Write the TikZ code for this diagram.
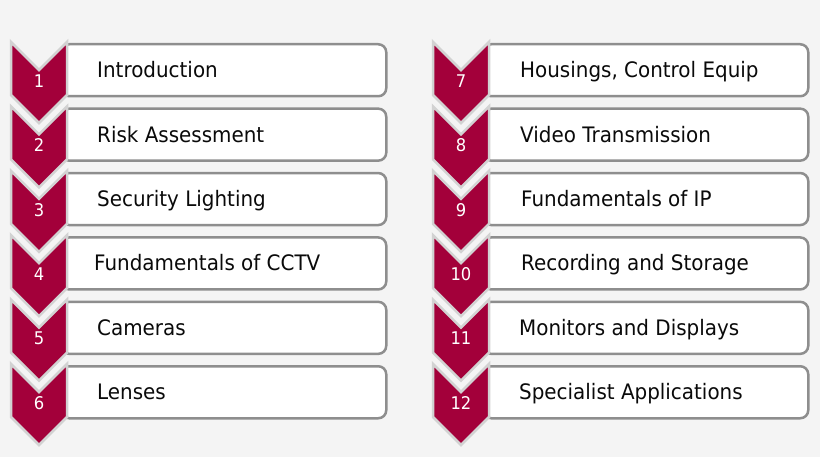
\documentclass[tikz,border=0pt]{standalone}
\usepackage{fontspec}
\setmainfont[FakeStretch=0.935]{DejaVu Sans}
\definecolor{crim}{HTML}{A3003A}
\definecolor{bg}{HTML}{F4F4F4}
\definecolor{boxline}{HTML}{8E8E8E}
\definecolor{chevline}{HTML}{D2D2D2}
\definecolor{txt}{HTML}{0A0A0A}
\begin{document}
\begin{tikzpicture}[x=1pt,y=-1pt,
 itembox/.style={draw=boxline, line width=2.5pt, fill=white, rounded corners=8pt, rectangle, minimum height=52pt, minimum width=325pt, inner sep=0pt, anchor=north west},
 chev/.style={fill=crim, draw=chevline, line width=2.5pt, line join=miter},
 numlabel/.style={text=white, font=\fontsize{17.5}{17.5}\selectfont, inner sep=0pt},
 itemlabel/.style={font=\fontsize{21.3}{21.3}\selectfont, anchor=base west, inner sep=0pt, text=txt}]
\fill[bg] (0,0) rectangle (820,457);
\useasboundingbox (0,0) rectangle (820,457);
\foreach \i/\r/\xl/\tx/\lab in {
  1/1/11/97/Introduction,
  2/2/11/97/Risk Assessment,
  3/3/11/97/Security Lighting,
  4/4/11/94/Fundamentals of CCTV,
  5/5/11/97/Cameras,
  6/6/11/97/Lenses,
  7/1/433/520/{Housings, Control Equip},
  8/2/433/520/Video Transmission,
  9/3/433/521/Fundamentals of IP,
  10/4/433/521/Recording and Storage,
  11/5/433/519/Monitors and Displays,
  12/6/433/519/Specialist Applications}{
  \pgfmathsetmacro{\t}{43+64.4*(\r-1)}
  \node[itembox] (box\i) at (\xl+49,\t) {};
  \draw[chev] (\xl,\t-1) -- (\xl+28,\t+27) -- (\xl+56,\t-1) -- (\xl+56,\t+52) -- (\xl+28,\t+80) -- (\xl,\t+52) -- cycle;
  \node[numlabel] (num\i) at (\xl+28,\t+38) {\i};
  \node[itemlabel] (lab\i) at (\tx,\t+34.7) {\lab};
}
\end{tikzpicture}
\end{document}
